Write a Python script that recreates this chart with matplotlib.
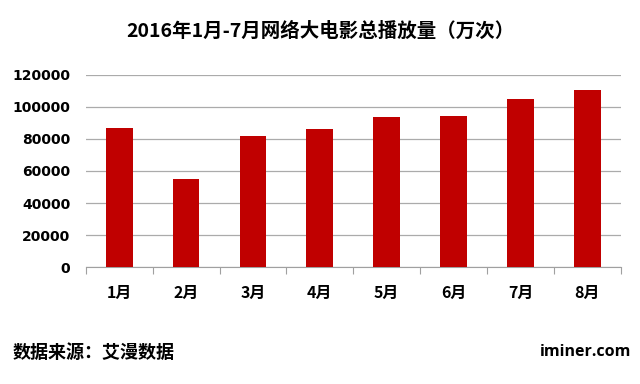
import matplotlib
matplotlib.use('Agg')
import matplotlib.pyplot as plt
import numpy as np

plt.rcParams['font.family'] = ['Noto Sans CJK SC', 'DejaVu Sans']

# --- data ---
months = ['1月', '2月', '3月', '4月', '5月', '6月', '7月', '8月']
plays = [87000, 55000, 81800, 86200, 93600, 94300, 104900, 110300]
yticks = [0, 20000, 40000, 60000, 80000, 100000, 120000]

title = '2016年1月-7月网络大电影总播放量（万次）'
source = '数据来源：艾漫数据'
site = 'iminer.com'

fig = plt.figure(figsize=(6.4, 3.84), dpi=100)
ax = fig.add_axes([0.134, 0.304, 0.836, 0.5015])

x = np.arange(len(months))
ax.bar(x, plays, width=0.40, color='#C00000', zorder=3)

ax.set_xlim(-0.5, len(months) - 0.5)
ax.set_ylim(0, 120000)
ax.set_yticks(yticks)
ax.set_yticklabels([str(v) for v in yticks], fontsize=10, fontweight='bold',
                   family='DejaVu Sans')
ax.yaxis.grid(True, color='#ABABAB', linewidth=0.9, zorder=0)
ax.tick_params(axis='y', length=0, pad=11)

# x ticks at category boundaries, labels centered
ax.set_xticks(np.arange(len(months) + 1) - 0.5)
ax.set_xticklabels([])
ax.set_xticks(x, minor=True)
ax.set_xticklabels(months, minor=True, fontsize=11.5, fontweight='bold')
ax.tick_params(axis='x', which='major', length=5, color='#A0A0A0', direction='out')
ax.tick_params(axis='x', which='minor', length=0, pad=13)

for s in ['top', 'right', 'left']:
    ax.spines[s].set_visible(False)
ax.spines['bottom'].set_color('#A0A0A0')

fig.text(0.5, 0.918, title, ha='center', va='center', fontsize=14, fontweight='bold')
fig.text(0.02, 0.083, source, ha='left', va='center', fontsize=13, fontweight='bold')
fig.text(0.986, 0.083, site, ha='right', va='center', fontsize=11.5, fontweight='bold',
         family=['Open Sans', 'DejaVu Sans'])

fig.savefig('out.png', dpi=100)
